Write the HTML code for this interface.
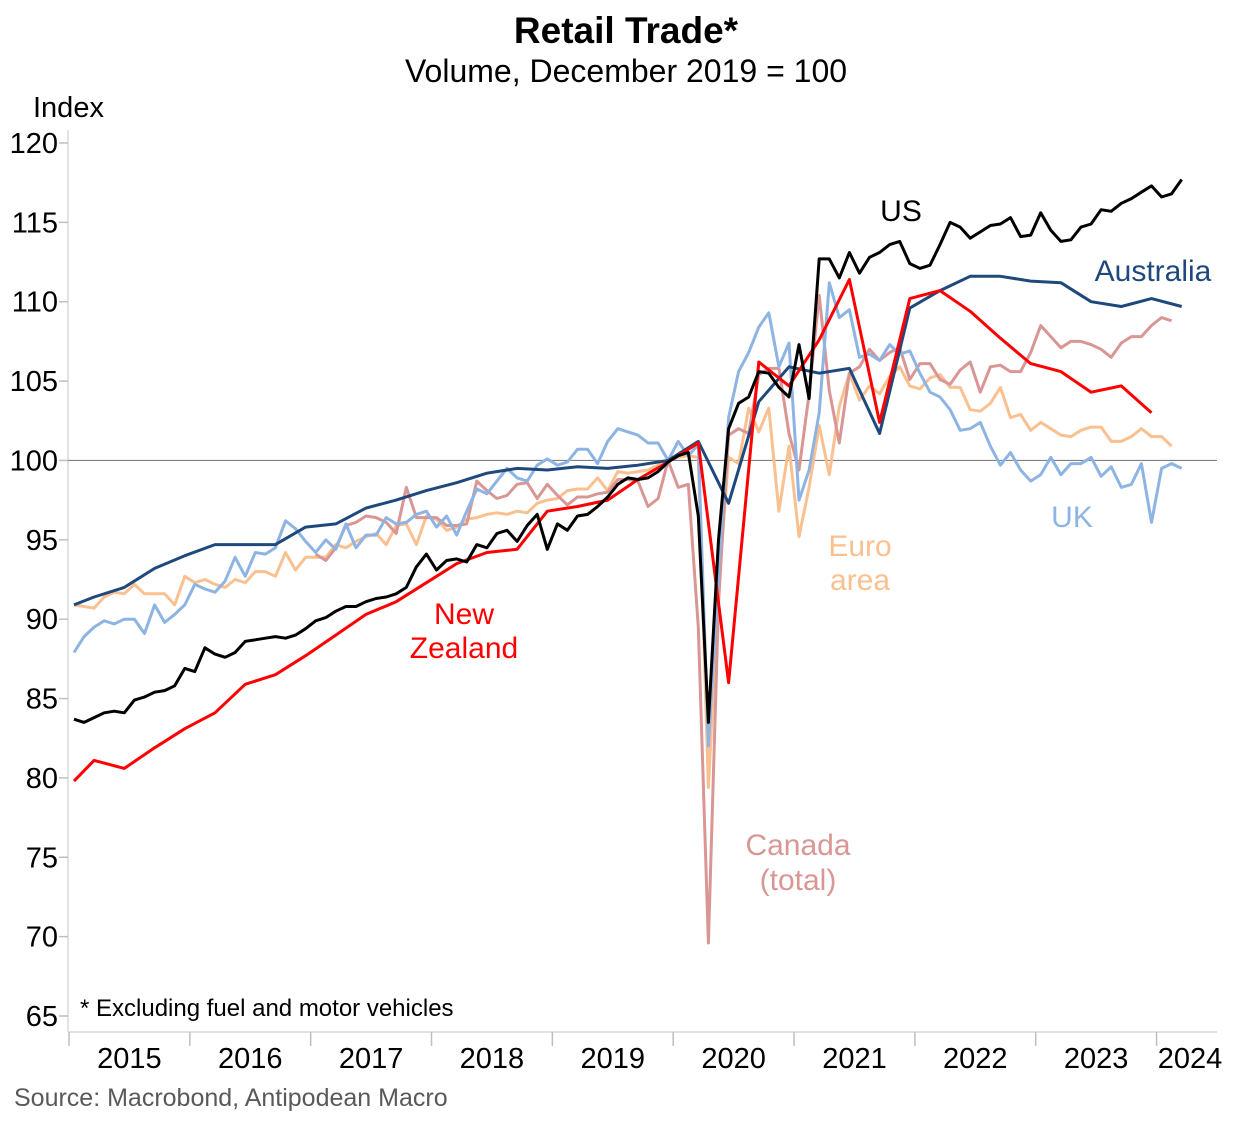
<!DOCTYPE html>
<html><head><meta charset="utf-8"><style>
html,body{margin:0;padding:0;background:#fff;}
svg{display:block;font-family:"Liberation Sans",Arial,sans-serif;}
</style></head><body>
<svg id="chart" width="1253" height="1122" viewBox="0 0 1253 1122">
<text x="626" y="43" text-anchor="middle" font-size="37" font-weight="bold">Retail Trade*</text>
<text x="626" y="82" text-anchor="middle" font-size="32">Volume, December 2019 = 100</text>
<text x="33" y="117" font-size="29">Index</text>
<g id="axes"></g>
<g id="series"></g>
<text x="901" y="221" text-anchor="middle" font-size="30" fill="#000">US</text>
<text x="1153" y="281" text-anchor="middle" font-size="30" fill="#1F497D">Australia</text>
<text x="1072" y="527" text-anchor="middle" font-size="30" fill="#8DB4E2">UK</text>
<text x="860" y="556" text-anchor="middle" font-size="30" fill="#FAC090"><tspan x="860">Euro</tspan><tspan x="860" dy="34">area</tspan></text>
<text x="464" y="624" text-anchor="middle" font-size="30" fill="#FF0000"><tspan x="464">New</tspan><tspan x="464" dy="34">Zealand</tspan></text>
<text x="798" y="855" text-anchor="middle" font-size="30" fill="#D99694"><tspan x="798">Canada</tspan><tspan x="798" dy="35">(total)</tspan></text>
<text x="80" y="1016" font-size="24">* Excluding fuel and motor vehicles</text>
<text x="14" y="1106" font-size="25" fill="#595959">Source: Macrobond, Antipodean Macro</text>
</svg>
<script>
const yTicks=[65,70,75,80,85,90,95,100,105,110,115,120];
const years=["2015","2016","2017","2018","2019","2020","2021","2022","2023","2024"];
const usVals=[83.7,83.5,83.8,84.1,84.2,84.1,84.9,85.1,85.4,85.5,85.8,86.9,86.7,88.2,87.8,87.6,87.9,88.6,88.7,88.8,88.9,88.8,89.0,89.4,89.9,90.1,90.5,90.8,90.8,91.1,91.3,91.4,91.6,
92.0,93.3,94.1,93.1,93.7,93.8,93.6,94.7,94.5,95.4,95.6,94.9,95.9,96.6,94.4,96.0,95.6,96.5,96.6,97.1,97.7,98.5,98.9,98.8,98.9,99.3,99.9,100.3,100.5,
96.5,83.5,95.0,102.0,103.6,104.0,105.6,105.5,104.6,104.0,107.3,103.9,112.7,112.7,111.5,113.1,111.8,112.8,113.1,113.6,113.8,112.4,112.1,112.3,113.6,115.0,114.7,114.0,114.4,114.8,114.9,115.3,114.1,114.2,115.6,114.5,113.8,113.9,114.7,114.9,115.8,115.7,116.2,116.5,116.9,117.3,116.6,116.8,117.7];
const ukVals=[87.9,88.9,89.5,89.9,89.7,90.0,90.0,89.1,90.9,89.8,90.3,90.9,92.2,91.9,91.7,92.4,93.9,92.7,94.2,94.1,94.5,96.2,95.7,94.9,94.2,95.0,94.4,96.0,94.5,95.3,95.3,96.4,96.0,
96.1,96.6,96.8,95.8,96.5,95.3,96.8,98.2,97.9,98.7,99.5,98.9,98.7,99.7,100.1,99.7,99.9,100.7,100.7,99.8,101.2,102.0,101.8,101.6,101.1,101.1,100.0,101.2,100.3,
101.0,82.0,93.0,102.7,105.6,106.8,108.4,109.3,105.9,107.4,97.5,99.4,103.0,111.2,109.0,109.5,106.5,106.7,106.3,107.3,106.7,106.9,105.5,104.3,104.0,103.2,101.9,102.0,102.4,100.9,99.7,100.5,99.4,98.7,99.1,100.2,99.1,99.8,99.8,100.2,99.0,99.6,98.3,98.5,99.8,96.1,99.5,99.8,99.5];
const euroVals=[90.9,90.8,90.7,91.4,91.7,91.6,92.2,91.6,91.6,91.6,90.9,92.7,92.3,92.5,92.2,92.0,92.5,92.3,93.0,93.0,92.7,94.2,93.1,93.9,93.9,93.9,94.7,94.5,94.9,95.2,95.4,94.7,95.9,
96.0,94.7,96.5,96.3,95.6,95.8,96.3,96.4,96.6,96.7,96.6,96.8,96.7,97.3,97.5,97.6,98.1,98.2,98.2,98.9,98.1,99.3,99.2,99.3,99.4,99.7,100.0,100.2,100.3,
100.2,79.4,92.0,100.2,99.8,103.3,101.8,103.3,96.8,100.9,95.2,98.3,102.2,99.1,103.4,105.5,103.8,104.7,104.2,105.3,105.9,104.7,104.5,105.2,105.4,104.6,104.6,103.2,103.1,103.6,104.6,102.7,102.9,101.9,102.4,102.0,101.6,101.5,101.9,102.1,102.1,101.2,101.2,101.5,102.0,101.5,101.5,100.9];
const canStart=24;
const canVals=[94.1,93.7,94.5,95.9,96.1,96.5,96.4,96.1,95.4,
98.3,96.4,96.4,96.4,95.9,95.9,96.0,98.7,98.1,97.6,97.8,98.5,98.6,97.6,98.5,97.8,97.2,97.7,97.7,97.9,98.0,98.8,98.8,98.7,97.1,97.6,100.0,98.3,98.5,
89.5,69.6,91.0,101.6,102.0,101.7,105.4,105.8,105.8,101.7,99.4,104.2,110.4,104.4,101.1,105.5,105.9,107.0,106.3,106.8,107.1,105.1,106.1,106.1,105.1,104.8,105.7,106.2,104.3,105.9,106.0,105.6,105.6,106.8,108.5,107.8,107.1,107.5,107.5,107.3,107.0,106.5,107.4,107.8,107.8,108.5,109.0,108.8];
const quarterMonths=[0,2,5,8,11,14,17,20,23,26,29,32,35,38,41,44,47,50,53,56,59,62,65,68,71,74,77,80,83,86,89,92,95,98,101,104,107,110];
const nzVals=[79.8,81.1,80.6,81.9,83.1,84.1,85.9,86.5,87.7,89.0,90.3,91.1,92.3,93.5,94.2,94.4,96.8,97.1,97.5,98.8,99.9,101.1,86.0,106.2,104.7,107.6,111.4,102.4,110.2,110.7,109.4,107.7,106.1,105.6,104.3,104.7,103.0];
const ausVals=[90.9,91.4,92.0,93.2,94.0,94.7,94.7,94.7,95.8,96.0,97.0,97.5,98.1,98.6,99.2,99.5,99.4,99.6,99.5,99.7,100.0,101.2,97.3,103.7,105.9,105.5,105.8,101.7,109.6,110.7,111.6,111.6,111.3,111.2,110.0,109.7,110.2,109.7];

const NS='http://www.w3.org/2000/svg';
const X0=74, DX=10.07, PL=68, PR=1217, PT=130, PB=1032;
function xm(i){return X0+i*DX;}
function yv(v){return 1016-(v-65)*(873/55);}
const axes=document.getElementById('axes');
const series=document.getElementById('series');
function mk(tag,attrs,parent){const e=document.createElementNS(NS,tag);for(const k in attrs)e.setAttribute(k,attrs[k]);parent.appendChild(e);return e;}

let yl=mk('line',{x1:PL,y1:PT,x2:PL,y2:PB,stroke:'#d9d9d9','stroke-width':1.5},axes);


let xl=mk('line',{x1:PL,y1:PB,x2:PR,y2:PB,stroke:'#d9d9d9','stroke-width':1.5},axes);


let ref=mk('line',{x1:PL,y1:yv(100),x2:PR,y2:yv(100),stroke:'#808080','stroke-width':1.2},axes);


yTicks.forEach(v=>{
  const t=mk('line',{x1:PL-9,y1:yv(v),x2:PL,y2:yv(v),stroke:'#bfbfbf','stroke-width':1.5},axes);
  
  
  const l=mk('text',{x:58,y:yv(v)+10,'text-anchor':'end','font-size':29},axes);
  l.textContent=v;
  
  
});
years.forEach((yr,k)=>{
  const xs=X0-5+k*12*DX;
  const t=mk('line',{x1:xs,y1:PB,x2:xs,y2:PB+14,stroke:'#bfbfbf','stroke-width':1.5},axes);
  
  
  const cx=Math.min(xs+6*DX,1190);
  const l=mk('text',{x:cx,y:1068,'text-anchor':'middle','font-size':29},axes);
  l.textContent=yr;
  
  
});
function draw(idx,vals,color,name){
  const d=vals.map((v,j)=>(j?'L':'M')+xm(idx[j]).toFixed(1)+' '+yv(v).toFixed(1)).join(' ');
  const p=mk('path',{d:d,fill:'none',stroke:color,'stroke-width':3,'stroke-linejoin':'round'},series);
  
  
}
const seq=(n,s)=>Array.from({length:n},(_,j)=>j+s);
draw(seq(euroVals.length,0),euroVals,'#FAC090','euro-area-line');
draw(seq(canVals.length,canStart),canVals,'#D99694','canada-line');
draw(seq(ukVals.length,0),ukVals,'#8DB4E2','uk-line');
draw(quarterMonths.slice(0,ausVals.length),ausVals,'#1F497D','australia-line');
draw(quarterMonths.slice(0,nzVals.length),nzVals,'#FF0000','new-zealand-line');
draw(seq(usVals.length,0),usVals,'#000000','us-line');
</script>
</body></html>
